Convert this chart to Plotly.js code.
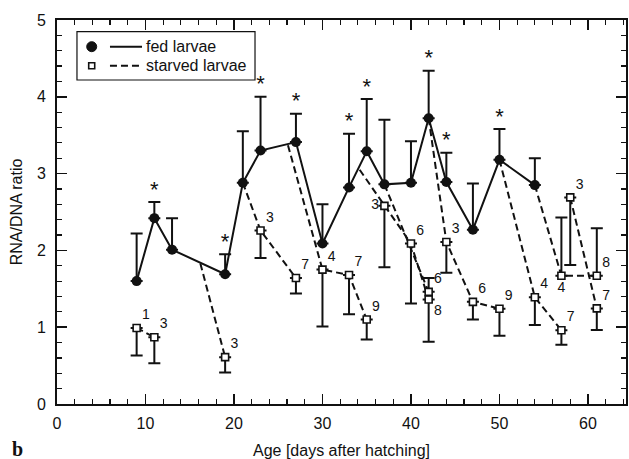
<!DOCTYPE html>
<html>
<head>
<meta charset="utf-8">
<script src="https://cdn.plot.ly/plotly-3.0.1.min.js"></script>
<style>html,body{margin:0;padding:0;background:#fff}#chart{width:629px;height:459px}</style>
</head>
<body>
<div id="chart"></div>
<script>
// Fed larvae
const fedAge = [9, 11, 13, 19, 21, 23, 27, 30, 33, 35, 37, 40, 42, 44, 47, 50, 54];
const fedRatio = [1.60, 2.42, 2.01, 1.69, 2.88, 3.30, 3.41, 2.09, 2.82, 3.29, 2.86, 2.88, 3.72, 2.89, 2.27, 3.18, 2.85];
const fedErrUp = [0.62, 0.21, 0.41, 0.26, 0.67, 0.70, 0.37, 0.51, 0.70, 0.68, 0.84, 0.54, 0.62, 0.38, 0.60, 0.40, 0.35];
// Ages with significant differences (asterisks)
const starAge = [11, 19, 23, 27, 33, 35, 42, 44, 50];

// Starved larvae
const starvAge = [9, 11, 19, 23, 27, 30, 33, 35, 37, 40, 42, 42, 44, 47, 50, 54, 57, 57, 61, 58, 61];
const starvRatio = [0.99, 0.87, 0.61, 2.26, 1.64, 1.75, 1.68, 1.10, 2.58, 2.09, 1.36, 1.46, 2.11, 1.33, 1.24, 1.39, 0.96, 1.67, 1.67, 2.69, 1.245];
const starvErrUp = [0, 0, 0, 0, 0, 0, 0, 0, 0, 0, 0, 0.18, 0, 0, 0, 0, 0, 0.76, 0.62, 0, 0];
const starvErrDown = [0.36, 0.34, 0.20, 0.36, 0.20, 0.74, 0.51, 0.26, 0.80, 0.78, 0.55, 0, 0.40, 0.23, 0.35, 0.36, 0.19, 0, 0, 0.88, 0.28];
const starvDays = ['1', '3', '3', '3', '7', '4', '7', '9', '3', '6', '8', '6', '3', '6', '9', '4', '7', '4', '8', '3', '7'];
const starvGroup = [0, 0, 1, 2, 2, 3, 3, 3, 4, 4, 4, 5, 6, 6, 6, 7, 7, 8, 8, 9, 9];
const labelPos = ['top right', 'top right', 'top right', 'top right', 'top right', 'top right', 'top right', 'top right',
  'middle left', 'top right', 'bottom right', 'top right', 'top right', 'top right', 'top right', 'top right',
  'top right', 'bottom center', 'top right', 'top right', 'top right'];
// Starting point of each starvation series on the fed curve
const groupStartAge = [null, 16.2, 21, 26.1, 34.2, 37, 42, 50, 54, null];
const groupStartRatio = [null, 1.83, 2.88, 3.37, 3.05, 2.86, 3.72, 3.18, 2.85, null];

const legendNames = ['fed larvae', 'starved larvae'];

const FONT = 'Liberation Sans, Arial, Helvetica, sans-serif';
const INK = '#111';
const traces = [];

// dashed starvation lines
for (let g = 0; g < groupStartAge.length; g++) {
  const xs = [], ys = [];
  if (groupStartAge[g] !== null) { xs.push(groupStartAge[g]); ys.push(groupStartRatio[g]); }
  starvAge.forEach((a, i) => { if (starvGroup[i] === g) { xs.push(a); ys.push(starvRatio[i]); } });
  traces.push({
    x: xs, y: ys, mode: 'lines', type: 'scatter', showlegend: false, hoverinfo: 'skip',
    line: {color: INK, width: 2, dash: '7px,4px'}
  });
}

// fed line + markers
traces.push({
  x: fedAge, y: fedRatio, type: 'scatter', mode: 'lines+markers', name: legendNames[0],
  line: {color: INK, width: 2},
  marker: {color: INK, size: 10, symbol: 'circle'},
  error_y: {type: 'data', symmetric: false, array: fedErrUp, arrayminus: fedAge.map(() => 0),
            color: INK, thickness: 2, width: 6}
});

// starved markers with error bars and day labels
traces.push({
  x: starvAge, y: starvRatio, type: 'scatter', mode: 'markers+text', name: legendNames[1],
  text: starvDays, textposition: labelPos,
  textfont: {family: FONT, size: 14, color: INK},
  marker: {color: '#fff', size: 7, symbol: 'square', line: {color: INK, width: 1.6}},
  error_y: {type: 'data', symmetric: false, array: starvErrUp, arrayminus: starvErrDown,
            color: INK, thickness: 2, width: 6}
});

// asterisks
const starY = starAge.map(a => { const i = fedAge.indexOf(a); return fedRatio[i] + fedErrUp[i]; });
traces.push({
  x: starAge, y: starY, type: 'scatter', mode: 'text', text: starAge.map(() => '*'),
  textposition: 'top center', showlegend: false, hoverinfo: 'skip',
  textfont: {family: FONT, size: 22, color: INK}
});

const axisCommon = {
  showgrid: false, zeroline: false, showline: true, linecolor: INK, linewidth: 2,
  mirror: 'ticks', ticks: 'inside', ticklen: 10, tickwidth: 1.5, tickcolor: INK,
  tickfont: {family: FONT, size: 16, color: INK}
};

// hand-built legend box (marker left, line right, as in the original figure)
const LX0 = 0.0351, LX1 = 0.348, LY0 = 0.8438, LY1 = 0.9695;
const rowY = [0.9305, 0.881];
const symX = 0.061, lineX0 = 0.0931, lineX1 = 0.1494, textX = 0.1529;
const shapes = [
  {type: 'rect', xref: 'paper', yref: 'paper', x0: LX0, x1: LX1, y0: LY0, y1: LY1,
   line: {color: INK, width: 1.2}, fillcolor: '#fff', layer: 'above'},
  {type: 'circle', xref: 'paper', yref: 'paper', xsizemode: 'pixel', ysizemode: 'pixel',
   xanchor: symX, yanchor: rowY[0], x0: -5, x1: 5, y0: -5, y1: 5,
   fillcolor: INK, line: {color: INK, width: 1}, layer: 'above'},
  {type: 'line', xref: 'paper', yref: 'paper', x0: lineX0, x1: lineX1, y0: rowY[0], y1: rowY[0],
   line: {color: INK, width: 2}, layer: 'above'},
  {type: 'rect', xref: 'paper', yref: 'paper', xsizemode: 'pixel', ysizemode: 'pixel',
   xanchor: symX, yanchor: rowY[1], x0: -3, x1: 3, y0: -3, y1: 3,
   fillcolor: '#fff', line: {color: INK, width: 1.6}, layer: 'above'},
  {type: 'line', xref: 'paper', yref: 'paper', x0: lineX0, x1: lineX1, y0: rowY[1], y1: rowY[1],
   line: {color: INK, width: 2, dash: '7px,4px'}, layer: 'above'}
];

const annotations = [
  {xref: 'paper', yref: 'paper', x: textX, y: rowY[0], xanchor: 'left', yanchor: 'middle',
   text: legendNames[0], showarrow: false, font: {family: FONT, size: 16, color: INK}},
  {xref: 'paper', yref: 'paper', x: textX, y: rowY[1], xanchor: 'left', yanchor: 'middle',
   text: legendNames[1], showarrow: false, font: {family: FONT, size: 16, color: INK}},
  {xref: 'paper', yref: 'paper', x: -0.07, y: -0.117, xanchor: 'center', yanchor: 'middle',
   text: '<b>b</b>', showarrow: false,
   font: {family: 'Liberation Serif, Times New Roman, serif', size: 20, color: INK}}
];

const layout = {
  width: 629, height: 459,
  margin: {l: 57, r: 3, t: 20, b: 55},
  paper_bgcolor: '#fff', plot_bgcolor: '#fff',
  font: {family: FONT, color: INK},
  showlegend: false,
  xaxis: Object.assign({}, axisCommon, {
    range: [0, 64.3], dtick: 10, tick0: 0, ticklabelstandoff: 4,
    minor: {dtick: 2, ticks: 'inside', ticklen: 5, tickwidth: 1.2, tickcolor: INK, showgrid: false},
    title: {text: 'Age [days after hatching]', font: {family: FONT, size: 16, color: INK}, standoff: 16}
  }),
  yaxis: Object.assign({}, axisCommon, {
    range: [0, 5], dtick: 1, tick0: 0, ticklabelstandoff: 6,
    minor: {dtick: 0.2, ticks: 'inside', ticklen: 5, tickwidth: 1.2, tickcolor: INK, showgrid: false},
    title: {text: 'RNA/DNA ratio', font: {family: FONT, size: 16, color: INK}, standoff: 10}
  }),
  shapes: shapes,
  annotations: annotations
};

Plotly.newPlot('chart', traces, layout, {displayModeBar: false, staticPlot: true});
</script>
</body>
</html>
